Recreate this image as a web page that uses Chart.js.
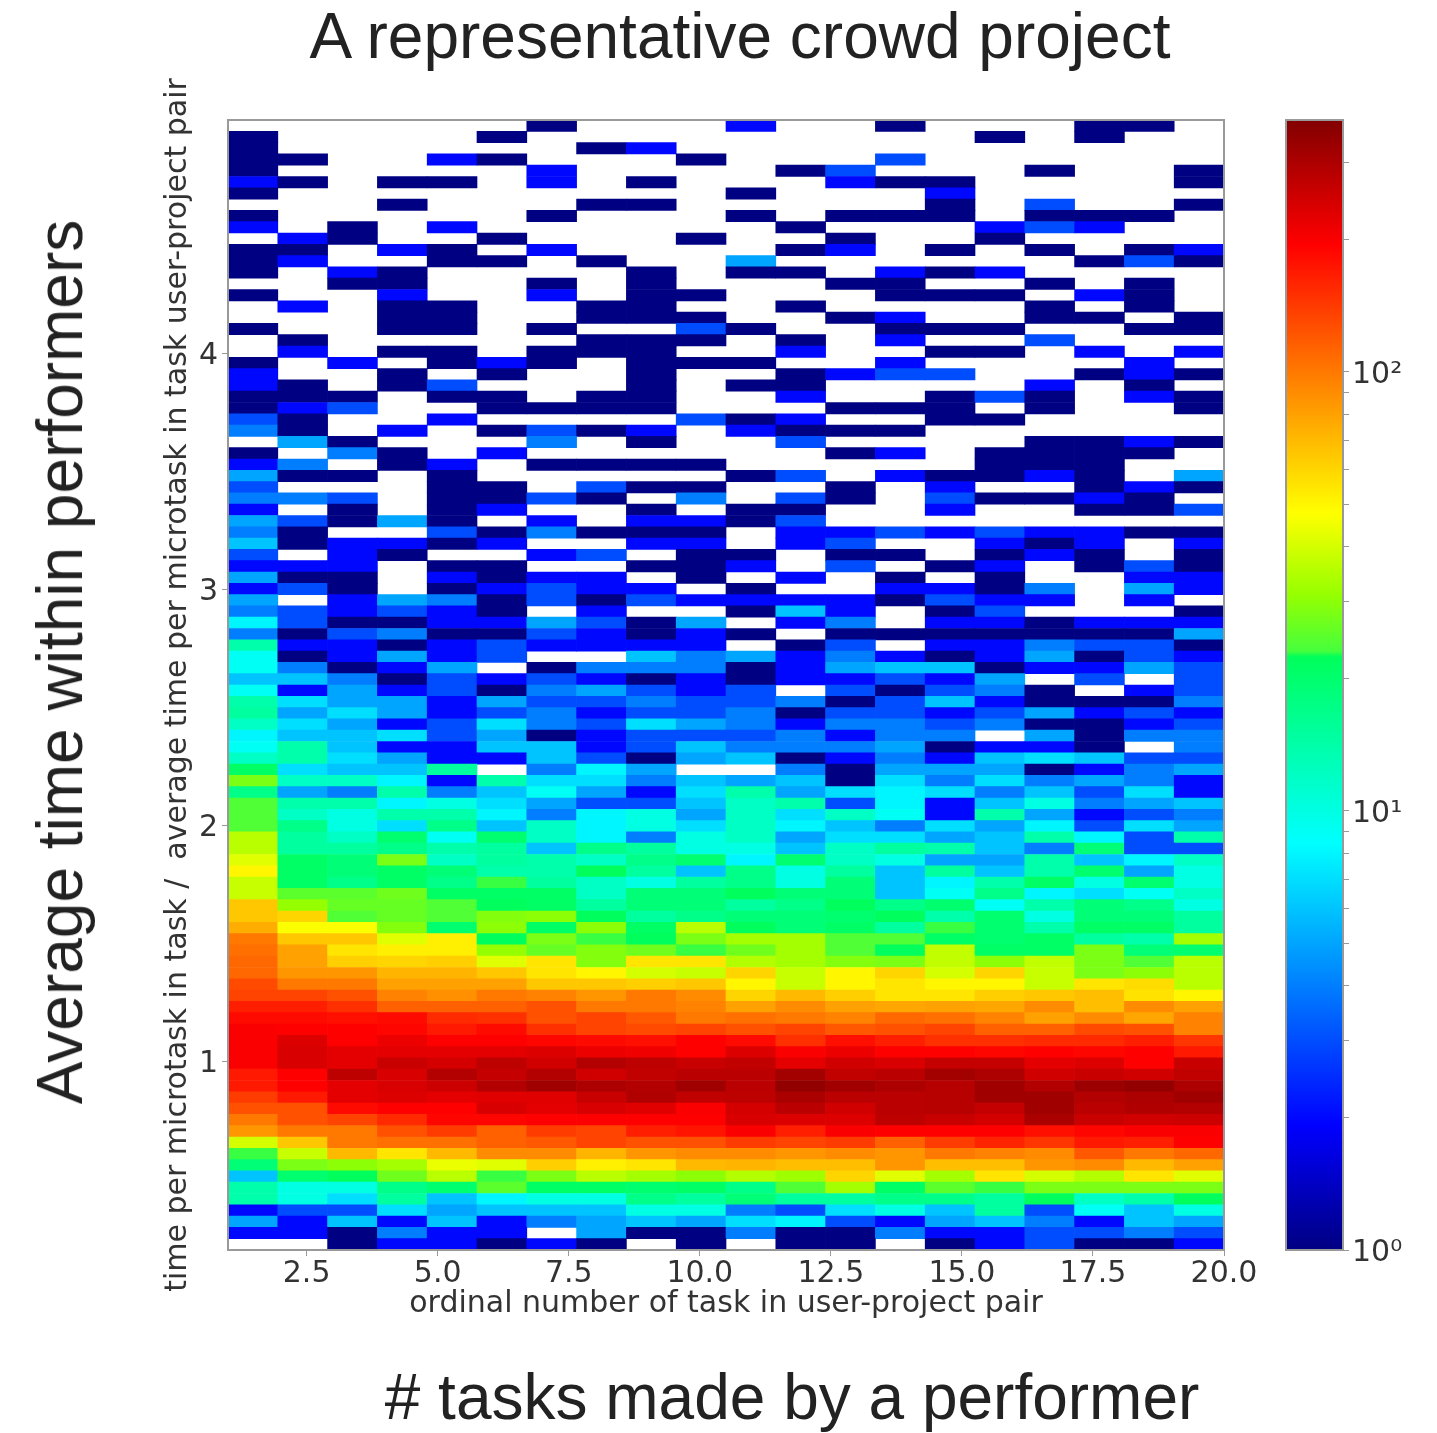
<!DOCTYPE html>
<html>
<head>
<meta charset="utf-8">
<title>A representative crowd project</title>
<script src="https://cdn.jsdelivr.net/npm/chart.js@4"></script>
<style>
    html, body { margin: 0; padding: 0; background: #fff; }
    #page { position: relative; width: 1437px; height: 1433px; overflow: hidden; filter: blur(0.6px); }
    canvas { position: absolute; top: 0; }
    .slide-text { position: absolute; font-family: "Liberation Sans", Arial, sans-serif; font-size: 64px; color: #222; white-space: nowrap; line-height: 1; }
    #mainTitle { left: 740px; top: 4px; transform: translateX(-50%); }
    #bottomLabel { left: 792px; top: 1365px; transform: translateX(-50%); }
    #leftLabel { left: 60px; top: 662px; transform: translate(-50%, -50%) rotate(-90deg); }
</style>
</head>
<body>
<div id="page">
    <canvas id="heatmap" width="1437" height="1433" style="left:0"></canvas>
    <canvas id="colorbar" width="167" height="1433" style="left:1270px"></canvas>
    <div class="slide-text" id="mainTitle">A representative crowd project</div>
    <div class="slide-text" id="bottomLabel"># tasks made by a performer</div>
    <div class="slide-text" id="leftLabel">Average time within performers</div>
</div>
<script>
const xTicks = [2.5, 5, 7.5, 10, 12.5, 15, 17.5, 20];
const yTicks = [1, 2, 3, 4];
const colorbarTicks = [1, 2, 3, 4, 5, 6, 7, 8, 9, 10, 20, 30, 40, 50, 60, 70, 80, 90, 100, 200, 300];
const colorbarLabels = { 1: '10⁰', 10: '10¹', 100: '10²' };
const xTitle = 'ordinal number of task in user-project pair';
const yTitle = 'time per microtask in task /  average time per microtask in task user-project pair';

const xRange = [1, 20];
const yRange = [0.2, 4.99];
const colorRange = [1, 375];

// counts per cell, top row first, 0 = empty cell
const counts = [
    [0,0,0,0,0,0,1,0,0,0,2,0,0,1,0,0,0,1,1,0],
    [1,0,0,0,0,1,0,0,0,0,0,0,0,0,0,1,0,1,0,0],
    [1,0,0,0,0,0,0,1,2,0,0,0,0,0,0,0,0,0,0,0],
    [1,1,0,0,2,1,0,0,0,1,0,0,0,3,0,0,0,0,0,0],
    [1,0,0,0,0,0,2,0,0,0,0,1,3,0,0,0,1,0,0,1],
    [2,1,0,1,1,0,2,0,1,0,0,0,2,1,1,0,0,0,0,1],
    [1,0,0,0,0,0,0,0,0,0,1,0,0,0,2,0,0,0,0,0],
    [0,0,0,1,0,0,0,1,1,0,0,0,0,0,1,0,3,0,0,1],
    [1,0,0,0,0,0,1,0,0,0,1,0,1,1,1,0,1,1,1,0],
    [2,0,1,0,2,0,0,0,0,0,0,1,0,0,0,2,3,2,0,0],
    [0,2,1,0,0,1,0,0,0,1,0,0,1,0,0,1,0,0,0,0],
    [1,1,0,2,1,0,2,0,0,0,0,1,2,0,1,0,1,0,1,2],
    [1,2,0,0,1,1,0,1,0,0,5,0,0,0,0,0,0,1,3,1],
    [1,0,2,1,0,0,0,0,1,0,1,1,0,2,1,2,0,0,0,0],
    [0,0,1,1,0,0,1,0,1,0,0,0,1,1,0,0,1,0,1,0],
    [1,0,0,2,0,0,2,0,1,1,0,0,0,1,1,1,0,2,1,0],
    [0,2,0,1,1,0,0,1,1,0,0,1,0,0,0,0,1,0,1,0],
    [0,0,0,1,1,0,0,1,1,1,0,0,1,2,0,0,1,1,0,1],
    [1,0,0,1,1,0,1,0,0,3,1,0,0,1,1,1,0,0,1,1],
    [0,1,0,0,0,0,0,1,1,1,0,1,0,2,0,0,3,0,0,0],
    [0,2,0,1,1,0,1,1,1,0,0,2,0,0,1,1,0,2,0,2],
    [1,0,2,0,1,2,1,0,1,1,1,0,0,2,0,0,0,0,2,0],
    [2,0,0,1,0,1,0,0,1,0,0,1,2,3,3,0,0,1,2,1],
    [2,1,0,1,3,0,0,0,1,0,1,1,0,0,0,0,2,0,1,0],
    [1,1,1,0,1,1,0,1,1,0,0,2,0,0,1,3,1,0,2,1],
    [1,2,3,0,0,1,1,1,1,0,0,0,1,1,1,0,1,0,0,1],
    [3,1,0,0,2,0,0,0,0,3,1,2,0,0,1,1,0,0,0,0],
    [4,1,0,2,0,1,3,1,2,0,2,1,1,1,0,0,0,0,0,0],
    [0,5,1,0,0,0,4,0,1,0,0,3,0,0,0,0,1,1,2,1],
    [1,0,4,1,0,2,0,0,0,0,0,0,1,2,0,1,1,1,1,0],
    [2,4,0,1,2,0,1,1,1,1,0,0,0,0,0,1,1,1,0,0],
    [5,1,1,0,1,0,0,0,0,0,1,3,0,2,1,1,2,1,0,5],
    [3,0,0,0,1,1,0,3,1,1,0,0,1,0,2,0,0,1,2,1],
    [4,4,3,0,1,1,3,1,0,4,0,3,1,0,3,1,1,2,1,0],
    [2,0,1,0,1,2,0,0,1,0,1,1,0,0,2,0,0,1,1,3],
    [5,3,1,5,1,0,2,0,2,2,1,3,0,0,0,0,0,0,0,0],
    [4,1,0,0,3,1,4,1,1,1,0,2,2,3,2,3,2,2,1,1],
    [6,1,2,2,1,2,0,0,2,2,0,2,3,0,0,2,1,2,0,2],
    [3,0,2,1,0,0,2,3,0,1,1,0,1,1,0,1,2,1,0,1],
    [2,2,2,0,1,1,0,0,1,1,2,0,3,0,1,2,0,1,3,1],
    [5,1,1,0,2,1,2,2,0,1,0,2,0,1,0,1,0,0,2,2],
    [2,3,1,0,1,2,3,2,2,0,1,0,0,2,2,1,4,0,5,2],
    [5,0,2,5,4,1,3,1,3,2,2,2,2,1,3,2,2,0,2,0],
    [4,3,2,3,2,1,0,2,0,0,1,6,2,0,1,3,0,0,0,1],
    [8,3,1,1,2,2,5,3,1,5,0,2,4,0,2,2,1,2,2,2],
    [4,1,3,4,1,1,3,2,1,2,1,0,1,1,1,1,1,1,1,5],
    [14,2,2,1,2,3,2,2,2,2,0,1,3,0,2,2,4,3,3,1],
    [9,1,2,5,2,3,0,0,6,4,5,2,4,2,1,2,5,1,3,2],
    [9,4,1,2,5,0,1,4,4,4,1,2,5,6,6,1,2,2,5,3],
    [6,6,4,1,3,2,3,2,1,2,1,2,2,3,2,5,0,3,0,3],
    [9,2,5,2,3,1,4,5,3,2,3,0,3,1,3,4,1,0,2,3],
    [14,7,5,5,2,5,3,3,4,3,3,4,1,3,6,2,1,1,1,4],
    [15,5,7,5,2,3,4,2,3,3,4,1,3,3,2,3,5,2,3,2],
    [12,7,5,2,3,7,4,3,7,5,4,2,4,4,3,4,1,1,2,3],
    [8,6,6,7,3,5,1,2,3,3,3,4,2,4,4,0,5,1,4,4],
    [9,14,6,2,2,6,6,2,3,6,4,4,4,5,1,2,2,1,0,4],
    [12,14,7,5,2,2,6,3,1,5,6,1,2,4,2,6,7,6,3,3],
    [21,7,6,6,15,0,4,8,5,0,0,4,1,5,5,5,1,2,4,5],
    [28,12,12,8,2,14,7,7,4,6,5,6,1,7,4,7,4,5,4,2],
    [17,5,4,14,4,6,9,5,2,7,14,5,7,8,7,4,6,3,7,2],
    [24,14,14,8,10,7,5,3,3,6,12,14,3,8,2,6,10,4,5,6],
    [24,12,10,14,14,8,4,8,10,5,12,7,12,9,2,14,5,2,3,4],
    [24,17,10,7,17,6,12,8,10,7,12,8,6,4,7,5,8,3,7,5],
    [36,15,12,20,9,20,12,8,4,10,12,5,7,7,5,6,14,8,3,14],
    [36,15,15,17,14,15,6,17,15,10,10,6,12,15,14,6,4,19,3,3],
    [42,21,19,28,12,15,14,12,17,20,8,20,12,10,5,5,14,6,8,12],
    [50,21,19,21,19,14,14,22,15,6,17,10,15,6,15,6,14,20,5,10],
    [38,21,17,21,17,23,15,12,10,15,17,10,19,6,8,14,21,10,20,10],
    [38,25,25,27,21,21,21,12,19,19,22,19,19,6,9,17,8,7,9,12],
    [65,31,26,26,24,22,21,15,19,19,15,17,22,17,20,9,14,19,17,10],
    [65,60,24,26,24,29,30,22,15,17,19,19,20,22,14,20,10,19,19,15],
    [75,47,47,29,20,30,21,30,21,36,22,19,21,15,23,20,14,21,21,15],
    [100,65,65,42,52,22,28,23,22,28,33,33,24,24,21,20,21,15,14,33],
    [105,80,55,52,52,31,26,29,27,23,27,33,24,22,37,21,21,28,19,20],
    [110,80,62,60,62,42,55,29,55,55,35,33,29,28,37,30,37,28,24,36],
    [110,85,85,72,72,65,55,50,40,38,60,38,50,60,40,60,38,28,30,36],
    [130,100,100,80,80,80,65,65,62,65,50,38,50,55,50,50,38,55,58,36],
    [135,135,125,95,88,100,95,85,100,90,60,70,62,55,55,62,65,68,56,50],
    [165,165,150,115,115,115,125,100,100,95,80,90,80,78,80,78,90,68,90,80],
    [185,185,180,185,155,150,125,135,120,100,105,100,95,110,105,95,80,90,78,95],
    [200,195,195,190,170,185,150,135,130,135,125,135,120,125,135,115,115,130,125,95],
    [200,235,195,215,195,195,190,185,180,195,185,150,180,165,150,150,155,155,165,145],
    [200,240,225,225,225,225,235,215,210,195,235,200,215,195,195,190,195,190,195,170],
    [200,240,225,260,245,275,250,290,275,260,270,225,250,240,265,265,225,235,195,260],
    [170,195,275,240,290,265,290,250,270,280,280,315,270,280,315,300,250,260,250,270],
    [170,195,225,240,255,290,320,300,290,320,280,345,320,300,285,320,290,325,345,300],
    [140,170,225,235,225,230,230,260,295,270,275,305,280,280,285,320,320,290,300,320],
    [125,125,185,195,195,240,225,240,230,200,245,280,250,280,285,265,320,280,295,290],
    [100,125,135,155,190,190,195,195,195,195,240,235,235,275,260,245,305,260,250,255],
    [85,100,100,125,140,115,140,135,165,175,200,165,200,195,195,195,180,190,200,200],
    [40,65,100,105,105,115,120,135,125,125,140,135,140,115,140,160,145,170,165,195],
    [23,38,70,55,70,90,90,72,85,90,90,85,90,85,100,95,90,120,100,110],
    [19,28,30,33,44,42,62,52,55,70,72,68,68,85,68,68,85,90,70,80],
    [6,20,22,27,36,23,28,36,33,30,35,32,60,42,33,55,40,35,55,42],
    [14,10,10,17,20,25,21,21,20,21,17,24,33,21,25,23,28,28,28,28],
    [14,10,7,15,6,8,10,10,17,15,19,15,15,17,17,15,22,12,14,22],
    [2,3,3,7,5,6,6,6,10,10,4,3,7,10,6,15,3,9,6,10],
    [5,2,6,2,6,2,4,5,6,5,7,8,3,2,5,6,4,2,6,5],
    [2,2,1,4,2,2,0,5,1,1,4,1,1,4,2,2,3,3,4,3],
    [0,0,1,2,2,1,2,1,0,1,0,1,1,0,1,2,3,1,1,2]
];

// jet, as it looks in the picture (small jump in the green)
const colorStops = [
    [0, 0, 0, 130], [0.11, 0, 0, 255], [0.36, 0, 255, 255], [0.525, 0, 255, 90],
    [0.53, 70, 255, 60], [0.58, 150, 255, 0], [0.652, 255, 255, 0], [0.89, 255, 0, 0], [1, 130, 0, 0]
];

const tickFont = { family: '"DejaVu Sans"', size: 30 };
// the small line height only nudges the tick numbers down onto their tick marks
const sideTickFont = { family: '"DejaVu Sans"', size: 30, lineHeight: 0.2 };
const textColor = '#333';
const lineColor = '#999';

function colorFor(value) {
    const t = Math.log(value) / Math.log(colorRange[1]);
    for (let i = 1; i < colorStops.length; i++) {
        const a = colorStops[i - 1];
        const b = colorStops[i];
        if (t <= b[0]) {
            const f = (t - a[0]) / (b[0] - a[0]);
            return `rgb(${a[1] + (b[1] - a[1]) * f}, ${a[2] + (b[2] - a[2]) * f}, ${a[3] + (b[3] - a[3]) * f})`;
        }
    }
    return 'rgb(130, 0, 0)';
}

const colWidth = (xRange[1] - xRange[0]) / counts[0].length;
const rowHeight = (yRange[1] - yRange[0]) / counts.length;
const cells = [];
const cellColors = [];
counts.forEach((row, r) => {
    row.forEach((value, c) => {
        if (value === 0) return;
        const top = yRange[1] - r * rowHeight;
        cells.push({ x: xRange[0] + (c + 0.5) * colWidth, y: [top - rowHeight, top] });
        cellColors.push(colorFor(value));
    });
});

const frame = {
    id: 'frame',
    afterDraw(chart) {
        const { ctx, chartArea } = chart;
        ctx.save();
        ctx.strokeStyle = lineColor;
        ctx.lineWidth = 2;
        ctx.strokeRect(chartArea.left, chartArea.top, chartArea.width, chartArea.height);
        ctx.restore();
    }
};

new Chart(document.getElementById('heatmap'), {
    type: 'bar',
    data: {
        datasets: [{
            data: cells,
            backgroundColor: cellColors,
            borderWidth: 0,
            barPercentage: 1,
            categoryPercentage: 1
        }]
    },
    options: {
        responsive: false,
        animation: false,
        layout: { padding: { left: 160, top: 120, right: 213, bottom: 111 } },
        plugins: { legend: { display: false }, tooltip: { enabled: false } },
        scales: {
            x: {
                type: 'linear',
                offset: false,
                min: xRange[0],
                max: xRange[1],
                afterBuildTicks: axis => { axis.ticks = xTicks.map(value => ({ value })); },
                afterFit: axis => { axis.height = 72; },
                grid: { offset: false, drawOnChartArea: false, tickLength: 6, tickColor: lineColor },
                border: { display: false },
                ticks: {
                    autoSkip: false, maxRotation: 0, padding: 0, color: textColor, font: tickFont,
                    callback: value => value.toFixed(1)
                },
                title: { display: true, text: xTitle, color: textColor, font: tickFont, padding: 0 }
            },
            y: {
                type: 'linear',
                min: yRange[0],
                max: yRange[1],
                afterBuildTicks: axis => { axis.ticks = yTicks.map(value => ({ value })); },
                afterFit: axis => { axis.width = 68; },
                grid: { drawOnChartArea: false, tickLength: 6, tickColor: lineColor },
                border: { display: false },
                ticks: { padding: 4, color: textColor, font: sideTickFont, callback: value => ['', String(value)] },
                title: { display: true, text: yTitle, color: textColor, font: tickFont, padding: 0 }
            }
        }
    },
    plugins: [frame]
});

new Chart(document.getElementById('colorbar'), {
    type: 'bar',
    data: {
        labels: [''],
        datasets: [{
            data: [colorRange],
            borderWidth: 0,
            barPercentage: 1,
            categoryPercentage: 1,
            backgroundColor: context => {
                const area = context.chart.chartArea;
                if (!area) return 'transparent';
                const gradient = context.chart.ctx.createLinearGradient(0, area.bottom, 0, area.top);
                colorStops.forEach(stop => gradient.addColorStop(stop[0], `rgb(${stop[1]}, ${stop[2]}, ${stop[3]})`));
                return gradient;
            }
        }]
    },
    options: {
        responsive: false,
        animation: false,
        layout: { padding: { left: 16, top: 120, right: 0, bottom: 183 } },
        plugins: { legend: { display: false }, tooltip: { enabled: false } },
        scales: {
            x: { display: false },
            y: {
                type: 'logarithmic',
                position: 'right',
                min: colorRange[0],
                max: colorRange[1],
                afterBuildTicks: axis => { axis.ticks = colorbarTicks.map(value => ({ value })); },
                afterFit: axis => { axis.width = 94; },
                grid: { drawOnChartArea: false, tickLength: 6, tickColor: lineColor },
                border: { display: false },
                ticks: {
                    autoSkip: false, padding: 3, color: textColor, font: sideTickFont,
                    callback: value => ['', colorbarLabels[value] || '']
                }
            }
        }
    },
    plugins: [frame]
});
</script>
</body>
</html>
